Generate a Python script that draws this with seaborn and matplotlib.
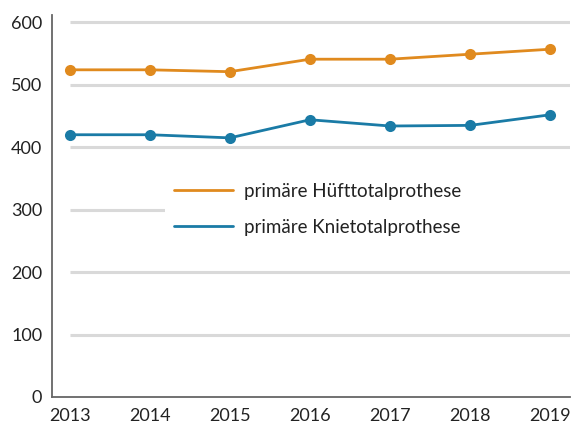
import matplotlib
matplotlib.use('Agg')
import matplotlib.pyplot as plt
import pandas as pd
import seaborn as sns

# Data
years = [2013, 2014, 2015, 2016, 2017, 2018, 2019]
huefte = [524, 524, 521, 541, 541, 549, 557]
knie = [420, 420, 415, 444, 434, 435, 452]
labels = ['primäre Hüfttotalprothese', 'primäre Knietotalprothese']

df = pd.concat([
    pd.DataFrame({'Jahr': years, 'Anzahl': huefte, 'Art': labels[0]}),
    pd.DataFrame({'Jahr': years, 'Anzahl': knie, 'Art': labels[1]}),
])

sns.set_style('white')
plt.rcParams['font.family'] = ['Lato', 'DejaVu Sans']
font_color = '#222222'
axis_color = '#666666'

fig = plt.figure(figsize=(5.72, 4.25), dpi=100)
ax = fig.add_axes([0.091, 0.066, 0.906, 0.899])

# gridlines from the first year to the right edge
for yv in [100, 200, 300, 400, 500, 600]:
    ax.hlines(yv, 2013, 2019.3, color='#d9d9d9', linewidth=2.2, zorder=0)

sns.lineplot(data=df, x='Jahr', y='Anzahl', hue='Art', ax=ax,
             palette=['#e08a1e', '#1a7ba6'], marker='o', markersize=8,
             markeredgewidth=0, linewidth=2, legend=False, zorder=3)

ax.set_xlim(2012.78, 2019.25)
ax.set_ylim(0, 612)
ax.set_xticks(years)
ax.set_yticks([0, 100, 200, 300, 400, 500, 600])
ax.set_xlabel('')
ax.set_ylabel('')
ax.tick_params(axis='both', labelsize=13, colors=font_color, length=5,
               width=1, direction='out', pad=3)
ax.tick_params(axis='x', color=axis_color)
ax.tick_params(axis='y', color=axis_color, length=4)
for s in ['top', 'right']:
    ax.spines[s].set_visible(False)
for s in ['left', 'bottom']:
    ax.spines[s].set_color(axis_color)
    ax.spines[s].set_linewidth(1.3)

# legend with plain line handles, white box reaching to the right edge
handles = [plt.Line2D([], [], color='#e08a1e', linewidth=2),
           plt.Line2D([], [], color='#1a7ba6', linewidth=2)]
leg = ax.legend(handles, labels, loc='upper left', mode='expand',
                bbox_to_anchor=(0.218, 0.34, 0.8, 0.245), frameon=True,
                facecolor='white', edgecolor='none', framealpha=1,
                fontsize=13.5, handlelength=3.1, handletextpad=0.6,
                labelspacing=1.0, borderpad=0.5, borderaxespad=0)
for t in leg.get_texts():
    t.set_color(font_color)
leg.set_zorder(5)

fig.savefig('out.png', dpi=100)
